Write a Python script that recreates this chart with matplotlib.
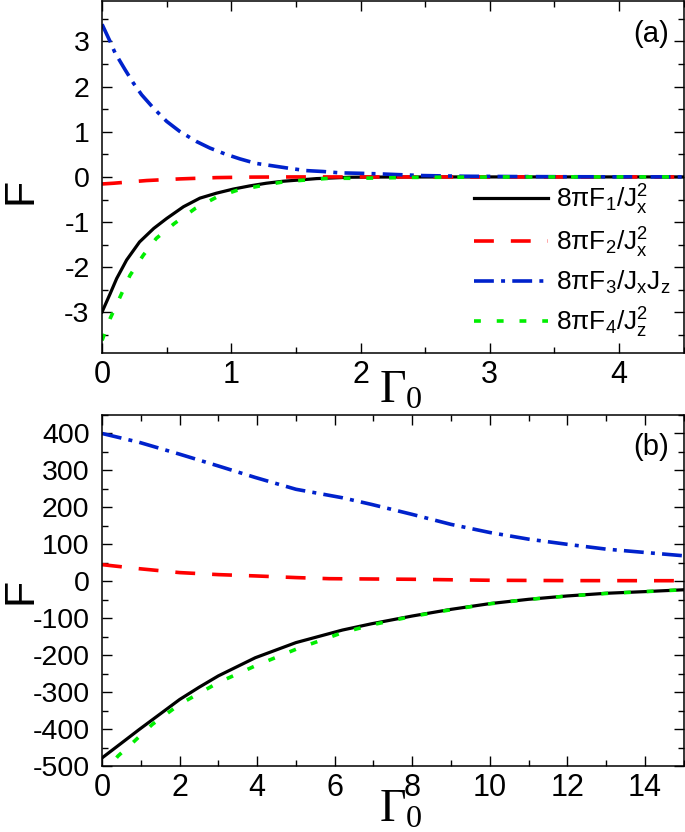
import numpy as np
import matplotlib
matplotlib.use("Agg")
import matplotlib.pyplot as plt
from matplotlib.ticker import MultipleLocator

plt.rcParams['font.family'] = ['Liberation Sans', 'DejaVu Sans']
plt.rcParams['mathtext.default'] = 'regular'
plt.rcParams['axes.unicode_minus'] = False

# panel (a): values
xa1 = [0, 0.062, 0.113, 0.19, 0.29, 0.40, 0.5, 0.63, 0.757, 0.885, 1.014, 1.14, 1.27, 1.40, 1.53, 1.66,
       1.79, 1.915, 2.1, 2.5, 3.0, 3.5, 4.0, 4.5]
fa1 = [-2.99, -2.59, -2.25, -1.84, -1.44, -1.14, -0.92, -0.66, -0.47, -0.36, -0.27, -0.2, -0.14, -0.096,
       -0.067, -0.037, -0.022, -0.007, -0.003, -0.001, 0, 0, 0, 0]
xa2 = [0, 0.087, 0.345, 0.6, 0.885, 1.15, 1.5, 2.0, 2.5, 3.0, 3.5, 4.0, 4.5]
fa2 = [-0.156, -0.14, -0.08, -0.044, -0.015, -0.004, 0, 0, 0, 0, 0, 0, 0]
xa3 = [0, 0.062, 0.10, 0.177, 0.242, 0.306, 0.396, 0.5, 0.6, 0.73, 0.834, 0.95, 1.066, 1.19, 1.31, 1.45,
       1.58, 1.71, 1.84, 2.0, 2.15, 2.48, 2.8, 3.2, 3.6, 4.0, 4.5]
fa3 = [3.38, 3.0, 2.75, 2.38, 2.08, 1.82, 1.53, 1.23, 1.01, 0.785, 0.64, 0.51, 0.40, 0.30, 0.25, 0.19,
       0.14, 0.12, 0.09, 0.08, 0.067, 0.03, 0.015, 0.008, 0.004, 0.002, 0.001]
xa4 = [0, 0.062, 0.139, 0.216, 0.32, 0.42, 0.56, 0.72, 0.885, 1.04, 1.22, 1.40, 1.58, 1.76, 1.95, 2.1,
       2.4, 2.8, 3.2, 3.6, 4.0, 4.5]
fa4 = [-3.62, -3.14, -2.66, -2.18, -1.73, -1.36, -1.03, -0.70, -0.45, -0.30, -0.2, -0.11, -0.067, -0.03,
       -0.03, -0.025, -0.01, -0.005, 0, 0, 0, 0]

# panel (b)
xb1 = [0, 0.5, 0.96, 1.5, 2, 2.5, 3, 3.95, 5, 6.2, 6.95, 8, 9, 10, 11, 12, 13, 14, 15]
fb1 = [-478, -438, -401, -359, -320, -287, -256, -207, -166, -132, -115, -94, -76, -60.5, -48.8, -39.7,
       -32.5, -28, -23]
xb2 = [0, 0.96, 2, 3, 3.95, 5, 5.86, 8, 10, 12, 15]
fb2 = [45, 34, 23.5, 18, 14.5, 10, 7, 5.4, 2.7, 1.8, 1.5]
xb3 = [0, 0.96, 2, 3, 3.95, 5, 6.2, 6.95, 8, 9, 10, 11, 12, 13, 14, 15]
fb3 = [400, 376, 344, 312, 281, 249, 226, 208, 181, 154, 132, 114, 100, 87, 78, 69]
xb4 = [0, 0.41, 0.79, 1.3, 2, 3, 3.95, 5, 6.2, 7, 8, 9, 10, 11, 12, 13, 14, 15]
fb4 = [-525, -473, -437, -387, -333, -274, -229, -184, -139, -117, -95, -77, -61, -49, -40, -33, -28, -23]

labels = [r'8πF$_1$/J$_x^2$', r'8πF$_2$/J$_x^2$', r'8πF$_3$/J$_x$J$_z$', r'8πF$_4$/J$_z^2$']

styles = [
    dict(color='black', lw=2.3, ls='-'),
    dict(color='#ff0000', lw=2.6, ls=(0, (5.5, 4.7))),
    dict(color='#0022cc', lw=2.6, ls=(0, (5.5, 2.0, 1.1, 2.0))),
    dict(color='#00ee00', lw=2.6, ls=(0, (1.9, 4.4))),
]

fig = plt.figure(figsize=(6.85, 8.32), dpi=100)
ax1 = fig.add_axes([0.149, 0.5757, 0.849, 0.4233])
ax2 = fig.add_axes([0.149, 0.0793, 0.849, 0.4219])

for x, y, st, lab in zip([xa1, xa2, xa3, xa4], [fa1, fa2, fa3, fa4], styles, labels):
    ax1.plot(x, y, label=lab, **st)
for x, y, st in zip([xb1, xb2, xb3, xb4], [fb1, fb2, fb3, fb4], styles):
    ax2.plot(x, y, **st)

ax1.set_xlim(0, 4.5)
ax1.set_ylim(-3.9, 3.9)
ax1.xaxis.set_major_locator(MultipleLocator(1))
ax1.xaxis.set_minor_locator(MultipleLocator(0.5))
ax1.yaxis.set_major_locator(MultipleLocator(1))
ax1.yaxis.set_minor_locator(MultipleLocator(0.5))

ax2.set_xlim(0, 15)
ax2.set_ylim(-500, 450)
ax2.xaxis.set_major_locator(MultipleLocator(2))
ax2.xaxis.set_minor_locator(MultipleLocator(1))
ax2.yaxis.set_major_locator(MultipleLocator(100))
ax2.yaxis.set_minor_locator(MultipleLocator(50))

for ax, tag, ty, gy, fy in [(ax1, '(a)', 0.906, -0.142, 0.46), (ax2, '(b)', 0.909, -0.16, 0.499)]:
    for s in ax.spines.values():
        s.set_linewidth(1.1)
    ax.tick_params(which='both', direction='in', top=True, right=True, width=1.0)
    ax.tick_params(which='major', length=7)
    ax.tick_params(which='minor', length=4)
    ax.tick_params(axis='x', labelsize=22, pad=5)
    ax.tick_params(axis='y', labelsize=20.5, pad=9)
    ax.set_ylabel('F', fontsize=31)
    ax.yaxis.set_label_coords(-0.106, fy)
    ax.text(0.974, ty, tag, transform=ax.transAxes, ha='right', va='center', fontsize=21)
    ax.text(0.477, gy, r'$\Gamma_0$', transform=ax.transAxes, ha='left', va='baseline',
            fontsize=33, family=['Liberation Serif', 'DejaVu Serif'])

ax1.legend(loc='lower right', frameon=False, fontsize=19, handlelength=2.8,
           handletextpad=0.3, labelspacing=0.35, borderaxespad=0.1)

fig.savefig('out.png', dpi=100)
